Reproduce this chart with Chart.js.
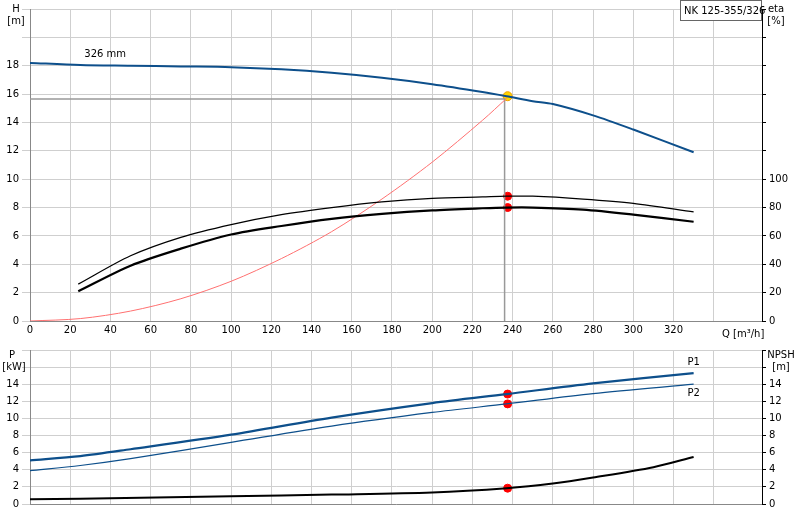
<!DOCTYPE html>
<html><head><meta charset="utf-8">
<script src="https://cdn.jsdelivr.net/npm/chart.js@4/dist/chart.umd.min.js"></script>
<style>body{margin:0;background:#fff}canvas{position:absolute;left:0}#c1{top:0}#c2{top:340px}</style>
</head><body>
<canvas id="c1" width="800" height="340"></canvas>
<canvas id="c2" width="800" height="180"></canvas>
<script>
const qH=[0,25,50,75,100,125,150,175,200,225,237,250,260,280,300,330];
const H=[18.2,18.05,18.0,17.95,17.9,17.75,17.5,17.15,16.7,16.15,15.85,15.5,15.3,14.5,13.5,11.9];
const qEta=[24,50,75,100,125,150,175,200,225,237,250,275,300,330];
const eta1=[26,46,59,68,75,80,84,86.5,87.5,88,88,86,83,77];
const eta2=[21,39,51,61,67,72,75.5,78,79.5,80,80,78.5,75,70];
const qSys=[0,25,50,75,100,125,150,175,200,225,237];
const Hsys=[0,0.17,0.7,1.57,2.8,4.4,6.3,8.6,11.2,14.15,15.7];
const qP=[0,25,50,100,150,200,237,280,330];
const P1=[5.1,5.6,6.4,8.1,10.1,11.8,12.85,14.1,15.3];
const P2=[3.9,4.5,5.3,7.2,9.1,10.7,11.7,12.9,14.0];
const qN=[0,25,100,150,200,237,260,280,310,330];
const NPSH=[0.55,0.6,0.9,1.1,1.35,1.85,2.4,3.1,4.3,5.5];
const dutyQ=237.5, dutyH=15.85, refH=15.65, refQ=236;
const pts=(x,y)=>x.map((v,i)=>({x:v,y:y[i]}));
const F='"DejaVu Sans", sans-serif';
Chart.defaults.font.family=F;Chart.defaults.font.size=10;Chart.defaults.color='#000';
const grid={color:'#cfcfcf',lineWidth:1};
const fixW=w=>function(s){s.width=w};
const fixH=h=>function(s){s.height=h};
const xFilter=s=>{s.ticks=s.ticks.filter(t=>t.value%20===0)};
const line=(data,color,w,axis)=>({data,showLine:true,borderColor:color,borderWidth:w,pointRadius:0,tension:0.3,fill:false,yAxisID:axis});
const txt={id:'txt',afterDraw(c,a,o){const g=c.ctx;g.save();g.font='10px '+F;g.fillStyle='#000';
 o.items.forEach(it=>{g.textAlign=it.al||'left';let x=it.px!==undefined?it.px:c.scales.x.getPixelForValue(it.x);let y=it.py!==undefined?it.py:c.scales[it.ax||'y'].getPixelForValue(it.y);g.fillText(it.t,x,y)});
 if(o.box){g.strokeStyle='#666';g.lineWidth=1;g.fillStyle='#fff';g.fillRect(680.5,0.5,81,20);g.strokeRect(680.5,0.5,81,20);g.fillStyle='#000';g.textAlign='left';g.fillText('NK 125-355/326',684,14)}
 g.restore()}};
const tk={autoSkip:false,maxRotation:0,minRotation:0};
new Chart(document.getElementById('c1'),{type:'scatter',
 data:{datasets:[
  line(pts(qH,H),'#0d4f8b',2,'y'),
  line(pts(qEta,eta1),'#000',1.3,'eta'),
  line(pts(qEta,eta2),'#000',2.2,'eta'),
  line(pts(qSys,Hsys),'#ff7070',1,'y'),
  {data:[{x:0,y:refH},{x:refQ,y:refH},{x:refQ,y:0}],showLine:true,borderColor:'#999',borderWidth:1.5,pointRadius:0,tension:0,yAxisID:'y'},
  {data:[{x:dutyQ,y:88},{x:dutyQ,y:80}],showLine:false,pointRadius:4,backgroundColor:'#f00',borderColor:'#f00',yAxisID:'eta'},
  {data:[{x:dutyQ,y:dutyH}],pointRadius:4.5,backgroundColor:'#ffd400',borderColor:'#f0a000',borderWidth:1,yAxisID:'y'}
 ]},
 options:{responsive:false,animation:false,events:[],layout:{padding:{top:0,bottom:4,left:0,right:0}},
  plugins:{legend:{display:false},tooltip:{enabled:false},
   txt:{box:true,items:[{t:'H',px:16,py:12,al:'center'},{t:'[m]',px:16,py:24,al:'center'},{t:'eta',px:776,py:12,al:'center'},{t:'[%]',px:776,py:24,al:'center'},{t:'326 mm',x:27,y:18.6},{t:'Q [m³/h]',px:722,py:337}]}},
  scales:{
   x:{type:'linear',min:0,max:364,afterBuildTicks:xFilter,afterFit:fixH(15),grid:{...grid,drawTicks:false},border:{color:'#888'},ticks:{...tk,stepSize:20,padding:3,callback:v=>v<=320?v:''}},
   y:{min:0,max:22,afterFit:fixW(30),grid:{...grid},border:{color:'#888'},ticks:{...tk,stepSize:2,callback:v=>v<=18?v:''}},
   eta:{position:'right',min:0,max:220,afterFit:fixW(38),grid:{drawOnChartArea:false,color:'#000',tickLength:4},border:{color:'#000'},ticks:{...tk,stepSize:20,callback:v=>v<=100?v:''}}
  }},plugins:[txt]});
new Chart(document.getElementById('c2'),{type:'scatter',
 data:{datasets:[
  line(pts(qP,P1),'#0d4f8b',2.2,'y'),
  line(pts(qP,P2),'#0d4f8b',1.2,'y'),
  line(pts(qN,NPSH),'#000',2,'n'),
  {data:[{x:dutyQ,y:12.85},{x:dutyQ,y:11.7}],pointRadius:4,backgroundColor:'#f00',borderColor:'#f00',yAxisID:'y'},
  {data:[{x:dutyQ,y:1.85}],pointRadius:4,backgroundColor:'#f00',borderColor:'#f00',yAxisID:'n'}
 ]},
 options:{responsive:false,animation:false,events:[],layout:{padding:{top:10,bottom:0,left:0,right:0}},
  plugins:{legend:{display:false},tooltip:{enabled:false},
   txt:{items:[{t:'P',px:12,py:18,al:'center'},{t:'[kW]',px:14,py:30,al:'center'},{t:'NPSH',px:781,py:18,al:'center'},{t:'[m]',px:781,py:30,al:'center'},{t:'P1',x:330,y:16.2,al:'center'},{t:'P2',x:330,y:12.6,al:'center'}]}},
  scales:{
   x:{type:'linear',min:0,max:364,afterBuildTicks:xFilter,afterFit:fixH(16),grid:{...grid,drawTicks:false},border:{color:'#888'},ticks:{...tk,stepSize:20,callback:()=>''}},
   y:{min:0,max:18,afterFit:fixW(30),grid:{...grid},border:{color:'#888'},ticks:{...tk,stepSize:2,callback:v=>v<=14?v:''}},
   n:{position:'right',min:0,max:18,afterFit:fixW(38),grid:{drawOnChartArea:false,color:'#000',tickLength:4},border:{color:'#000'},ticks:{...tk,stepSize:2,callback:v=>v<=14?v:''}}
  }},plugins:[txt]});
</script></body></html>
